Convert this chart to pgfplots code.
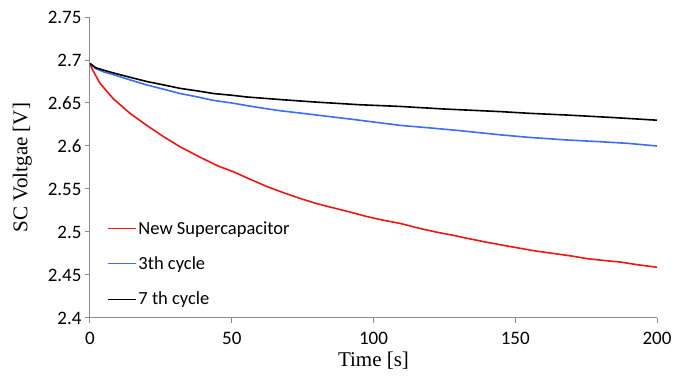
\documentclass[border=0pt]{standalone}
\usepackage{fontspec}
\setmainfont{Liberation Serif}
\newfontfamily\calibri{Carlito}
\usepackage{pgfplots}
\pgfplotsset{compat=1.18}
\definecolor{myred}{RGB}{240,20,20}
\definecolor{myblue}{RGB}{60,110,245}
\definecolor{axgray}{RGB}{140,140,140}
\pgfplotsset{every axis plot/.append style={
  legend image code/.code={\draw[#1, line width=1.1pt] (0pt,0pt) -- (28pt,0pt);}}}
\begin{document}
\begin{tikzpicture}
\begin{axis}[
  name=ax,
  scale only axis,
  width=567pt, height=301pt,
  xmin=0, xmax=200, ymin=2.4, ymax=2.75,
  axis lines*=left,
  axis line style={axgray, line width=1pt},
  every tick/.style={axgray, line width=1pt},
  tick align=outside,
  major tick length=5pt,
  xtick={0,50,100,150,200},
  ytick={2.4,2.45,2.5,2.55,2.6,2.65,2.7,2.75},
  yticklabels={2.4,2.45,2.5,2.55,2.6,2.65,2.7,2.75},
  xticklabels={0,50,100,150,200},
  tick label style={font=\calibri\fontsize{19}{22}\selectfont},
  xticklabel style={yshift=-6pt},
  /pgf/number format/assume math mode=true,
  xlabel={Time [s]},
  ylabel={SC Voltgae [V]},
  label style={font=\fontsize{21}{25}\selectfont},
  xlabel style={yshift=0pt},
  ylabel style={yshift=9pt},
  legend cell align=left,
  legend style={draw=none, fill=none, at={(0.025,0.025)}, anchor=south west,
    font=\calibri\fontsize{18.5}{22}\selectfont, row sep=17pt,
    /tikz/every even column/.append style={column sep=2pt}},
]
\addplot[myred, line width=1.6pt] coordinates {
(0,2.695) (1,2.688) (3.5,2.673) (8.2,2.655) (14.1,2.638) (20,2.624) (25.9,2.611)
(31.8,2.599) (38.8,2.587) (45,2.577) (50.6,2.570) (56,2.562) (62.3,2.553) (68,2.546)
(74.1,2.539) (80,2.533) (85.9,2.528) (92,2.523) (97.6,2.518) (103,2.514) (109.4,2.510)
(116.5,2.504) (122,2.500) (128.3,2.496) (134,2.492) (140.1,2.488) (145,2.485)
(151.8,2.481) (157,2.478) (163.6,2.475) (170,2.472) (175.4,2.469) (181,2.467)
(187.2,2.465) (193,2.462) (200,2.459)};
\addlegendentry{New Supercapacitor}
\addplot[myblue, line width=1.6pt] coordinates {
(0,2.696) (2,2.690) (5,2.686) (8.2,2.683) (14,2.677) (20,2.671) (26,2.666) (31.8,2.661)
(38,2.657) (43.6,2.653) (50,2.650) (55.3,2.647) (61,2.644) (67.1,2.641) (75,2.638)
(85,2.634) (95,2.630) (109.4,2.624) (120,2.621) (130,2.618) (144.7,2.613) (155,2.610)
(168.2,2.607) (180,2.605) (190,2.603) (200,2.600)};
\addlegendentry{3th cycle}
\addplot[black, line width=1.6pt] coordinates {
(0,2.696) (2,2.691) (5,2.688) (8.2,2.685) (14,2.680) (20,2.675) (26,2.671) (31.8,2.667)
(38,2.664) (43.6,2.661) (50,2.659) (55.3,2.657) (67.1,2.654) (80,2.651) (95,2.648) (109.4,2.646)
(125,2.643) (144.7,2.640) (155,2.638) (168.2,2.636) (185,2.633) (200,2.630)};
\addlegendentry{7 th cycle}
\end{axis}
\path ([xshift=-90pt,yshift=-59pt]ax.south west) rectangle ([xshift=31pt,yshift=17pt]ax.north east);
\end{tikzpicture}
\end{document}
